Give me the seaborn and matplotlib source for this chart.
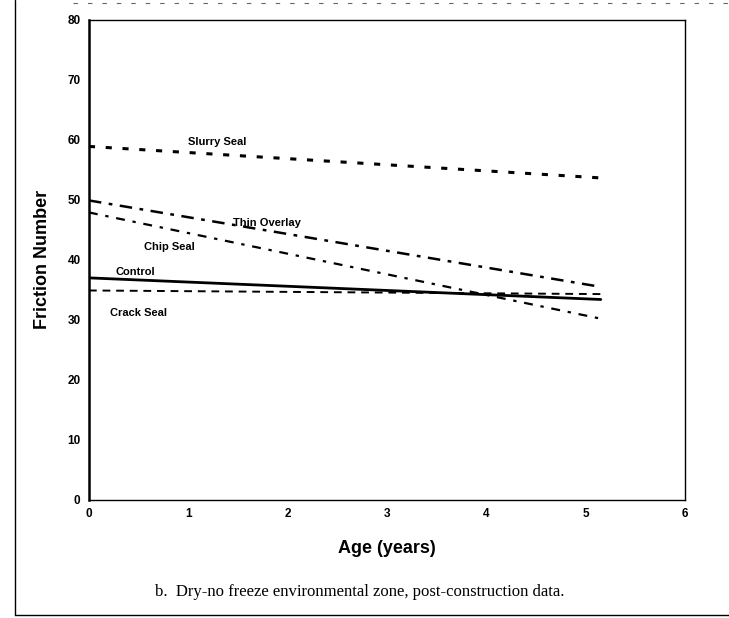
import matplotlib
matplotlib.use("Agg")

import matplotlib.pyplot as plt
import pandas as pd
import seaborn as sns

# treatment lines: (age, friction number) at start and end
series = ["Slurry Seal", "Thin Overlay", "Chip Seal", "Control", "Crack Seal"]
age_start = [0, 0, 0, 0, 0]
age_end = [5.2, 5.15, 5.15, 5.15, 5.15]
fn_start = [58.9, 49.9, 47.9, 37.0, 34.9]
fn_end = [53.6, 35.5, 30.2, 33.4, 34.3]

# label anchors (left edge, vertical centre) in data units
label_x = [1.0, 1.45, 0.55, 0.27, 0.21]
label_y = [59.6, 46.2, 42.2, 38.0, 31.2]

x_ticks = [0, 1, 2, 3, 4, 5, 6]
y_ticks = [0, 10, 20, 30, 40, 50, 60, 70, 80]

styles = {
    "Slurry Seal": dict(linestyle=(0, (2.0, 3.5)), linewidth=2.2),
    "Thin Overlay": dict(linestyle=(0, (5, 3, 1.5, 3)), linewidth=1.8),
    "Chip Seal": dict(linestyle=(0, (4, 3.5, 1.5, 3.5)), linewidth=1.6),
    "Control": dict(linestyle="-", linewidth=2.0),
    "Crack Seal": dict(linestyle=(0, (4, 3)), linewidth=1.4),
}

rows = []
for name, a0, a1, f0, f1 in zip(series, age_start, age_end, fn_start, fn_end):
    rows.append({"series": name, "age": a0, "fn": f0})
    rows.append({"series": name, "age": a1, "fn": f1})
df = pd.DataFrame(rows)

sns.set_theme(style="white")
plt.rcParams["font.family"] = ["Liberation Sans", "DejaVu Sans"]
plt.rcParams["text.color"] = "black"
plt.rcParams["axes.labelcolor"] = "black"

fig = plt.figure(figsize=(7.29, 6.18), dpi=100)
ax = fig.add_axes([0.122, 0.191, 0.818, 0.777])

for name in series:
    sub = df[df["series"] == name]
    sns.lineplot(data=sub, x="age", y="fn", ax=ax, color="black",
                 legend=False, **styles[name])

for name, lx, ly in zip(series, label_x, label_y):
    ax.text(lx, ly, name, fontsize=8, fontweight="bold", va="center", ha="left",
            color="black")

ax.set_xlim(0, 6)
ax.set_ylim(0, 80)
ax.set_xticks(x_ticks)
ax.set_yticks(y_ticks)
ax.tick_params(direction="inout", length=5, width=1, labelsize=8.5, colors="black")
for lab in ax.get_xticklabels() + ax.get_yticklabels():
    lab.set_fontweight("bold")
for side in ["left", "bottom", "right", "top"]:
    ax.spines[side].set_color("black")
    ax.spines[side].set_linewidth(1.0)
ax.spines["left"].set_linewidth(1.8)

ax.set_xlabel("Age (years)", fontsize=13, fontweight="bold", labelpad=14, color="black")
ax.set_ylabel("Friction Number", fontsize=13, fontweight="bold", labelpad=12, color="black")

fig.text(0.494, 0.042, "b.  Dry-no freeze environmental zone, post-construction data.",
         ha="center", va="center", fontsize=12, color="black",
         family=["Liberation Serif", "DejaVu Serif"])

# scanned page frame
fig.add_artist(plt.Line2D([0.021, 0.021], [0.005, 1.0], color="black", linewidth=1.0))
fig.add_artist(plt.Line2D([0.021, 1.0], [0.005, 0.005], color="black", linewidth=1.0))
fig.add_artist(plt.Line2D([0.1, 1.0], [0.995, 0.995], color="0.4", linewidth=0.8,
                          linestyle=(0, (4, 9))))

fig.savefig("out.png", dpi=100)
